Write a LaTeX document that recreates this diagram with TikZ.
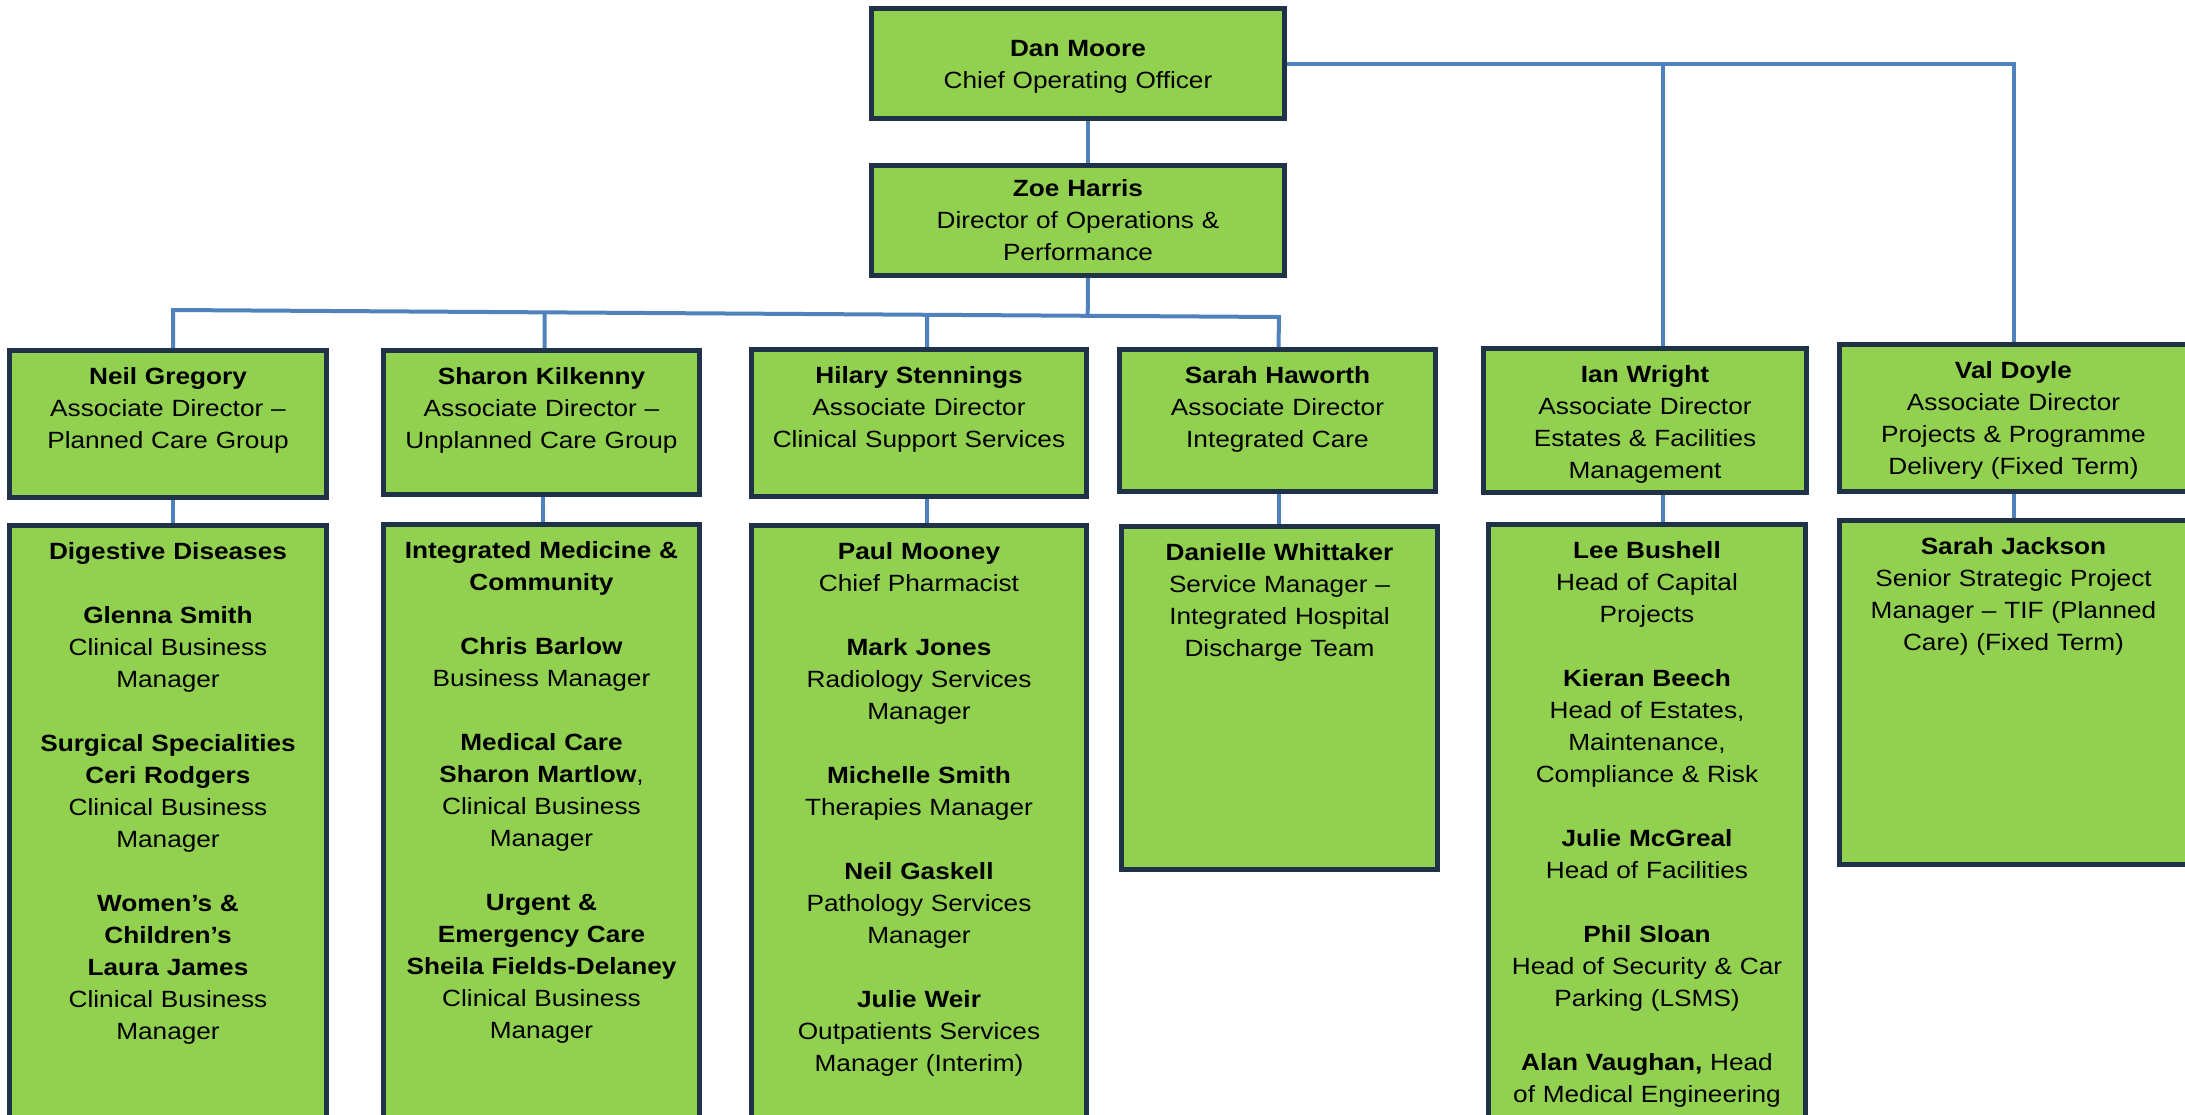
\documentclass[tikz,border=0pt]{standalone}
\usepackage{fontspec}
\setmainfont{Liberation Sans}[FakeStretch=1.115]
\usetikzlibrary{calc}

\newlength{\px}
\setlength{\px}{0.5pt}
\definecolor{leaf}{RGB}{146,208,80}
\definecolor{navy}{RGB}{31,50,72}
\definecolor{wire}{RGB}{79,129,189}
\newcommand{\gap}{\\[16pt]}

\begin{document}
\begin{tikzpicture}[
          x=0.5pt, y=-0.5pt,
          unit/.style={draw=navy,fill=leaf,line width=5\px,anchor=north west,
            align=center,inner xsep=6\px,inner ysep=10\px,text height=24\px,
            font=\fontsize{11.75pt}{16pt}\selectfont},
          link/.style={draw=wire,line width=4\px}
            ]
            \useasboundingbox (0,0) rectangle (2185,1114);
            \clip (0,0) rectangle (2185,1114);
            \node[unit,text width=401\px,text height=38\px,text depth=52\px] (dan) at (869,6)
              {\textbf{Dan Moore}\\Chief Operating Officer};
            \node[unit,text width=401\px,text height=21\px,text depth=69\px] (zoe) at (869,163)
              {\textbf{Zoe Harris}\\Director of Operations \&\\Performance};
            \node[unit,text width=305\px,text depth=103\px] (neil) at (7,348)
              {\textbf{Neil Gregory}\\Associate Director –\\Planned Care Group};
            \node[unit,text width=304\px,text depth=100\px] (sharon) at (381,348)
              {\textbf{Sharon Kilkenny}\\Associate Director –\\Unplanned Care Group};
            \node[unit,text width=323\px,text depth=103\px] (hilary) at (749,347)
              {\textbf{Hilary Stennings}\\Associate Director\\Clinical Support Services};
            \node[unit,text width=304\px,text depth=98\px] (sarahh) at (1117,347)
              {\textbf{Sarah Haworth}\\Associate Director\\Integrated Care};
            \node[unit,text width=311\px,text depth=100\px] (ian) at (1481,346)
              {\textbf{Ian Wright}\\Associate Director\\Estates \& Facilities\\Management};
            \node[unit,text width=336\px,text depth=103\px] (val) at (1837,342)
              {\textbf{Val Doyle}\\Associate Director\\Projects \& Programme\\Delivery (Fixed Term)};
            % teams under each associate director
            \node[unit,text width=305\px,text depth=570\px] (digest) at (7,523)
              {\textbf{Digestive Diseases}\gap
               \textbf{Glenna Smith}\\Clinical Business\\Manager\gap
               \textbf{Surgical Specialities}\\\textbf{Ceri Rodgers}\\Clinical Business\\Manager\gap
               \textbf{Women’s \&}\\\textbf{Children’s}\\\textbf{Laura James}\\Clinical Business\\Manager};
            \node[unit,text width=304\px,text depth=570\px] (intmed) at (381,522)
              {\textbf{Integrated Medicine \&}\\\textbf{Community}\gap
               \textbf{Chris Barlow}\\Business Manager\gap
               \textbf{Medical Care}\\\textbf{Sharon Martlow},\\Clinical Business\\Manager\gap
               \textbf{Urgent \&}\\\textbf{Emergency Care}\\\textbf{Sheila Fields-Delaney}\\Clinical Business\\Manager};
            \node[unit,text width=323\px,text depth=570\px] (support) at (749,523)
              {\textbf{Paul Mooney}\\Chief Pharmacist\gap
               \textbf{Mark Jones}\\Radiology Services\\Manager\gap
               \textbf{Michelle Smith}\\Therapies Manager\gap
               \textbf{Neil Gaskell}\\Pathology Services\\Manager\gap
               \textbf{Julie Weir}\\Outpatients Services\\Manager (Interim)};
            \node[unit,text width=304\px,text depth=299\px] (discharge) at (1119,524)
              {\textbf{Danielle Whittaker}\\Service Manager –\\Integrated Hospital\\Discharge Team};
            \node[unit,text width=305\px,text depth=570\px] (estates) at (1486,522)
              {\textbf{Lee Bushell}\\Head of Capital\\Projects\gap
               \textbf{Kieran Beech}\\Head of Estates,\\Maintenance,\\Compliance \& Risk\gap
               \textbf{Julie McGreal}\\Head of Facilities\gap
               \textbf{Phil Sloan}\\Head of Security \& Car\\Parking (LSMS)\gap
               \textbf{Alan Vaughan,} Head\\of Medical Engineering};
            \node[unit,text width=336\px,text depth=300\px] (projects) at (1837,518)
              {\textbf{Sarah Jackson}\\Senior Strategic Project\\Manager – TIF (Planned\\Care) (Fixed Term)};
            % reporting lines
            \coordinate (barL) at (173,310);
            \coordinate (barR) at (1279,317);
            \draw[link] ([xshift=10\px]dan.south) -- ([xshift=10\px]zoe.north);
            \draw[link] (dan.east) -| (val.north);
            \draw[link] ([xshift=18\px]ian.north) -- ([xshift=18\px]ian.north |- dan.east);
            \draw[link] ([xshift=5\px]neil.north) -- (barL) -- (barR) -- ([xshift=1\px]sarahh.north);
            \draw[link] ([xshift=10\px]zoe.south) -- ($(barL)!([xshift=10\px]zoe.south)!(barR)$);
            \foreach \n/\dx in {sharon/3,hilary/8}
              \draw[link] ([xshift=\dx\px]\n.north) -- ($(barL)!([xshift=\dx\px]\n.north)!(barR)$);
            \foreach \boss/\team/\dx in {neil/digest/5,sharon/intmed/1,hilary/support/8,
                sarahh/discharge/1,ian/estates/18,val/projects/0}
              \draw[link] ([xshift=\dx\px]\boss.south) -- ([xshift=\dx\px]\boss.south |- \team.north);
            \end{tikzpicture}
\end{document}
